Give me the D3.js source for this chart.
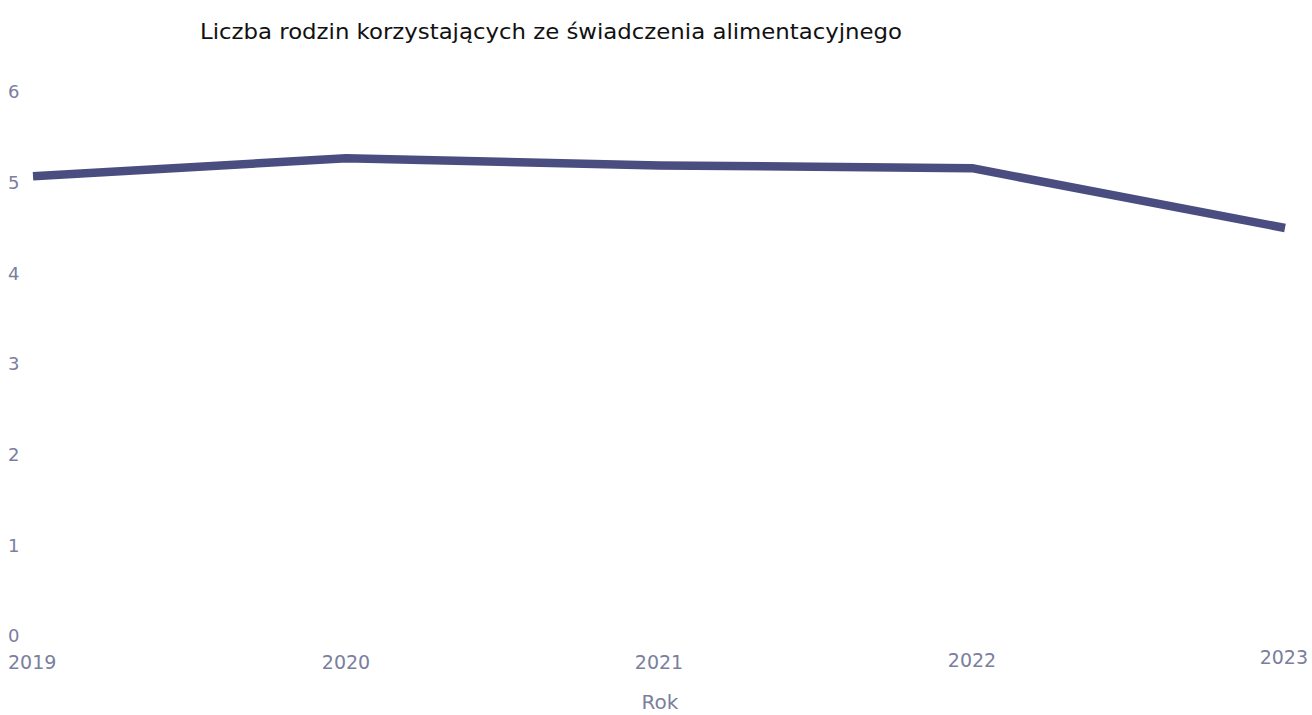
<!DOCTYPE html>
<html><head><meta charset="utf-8">
<script src="https://cdn.jsdelivr.net/npm/d3@7"></script>
<style>body{margin:0;background:#fff}svg{display:block}</style>
</head><body>
<svg id="c" width="1312" height="715"></svg>
<script>
const years = ["2019","2020","2021","2022","2023"];
const values = [5.07, 5.27, 5.19, 5.16, 4.50];
const yTicks = [0,1,2,3,4,5,6];
const title = "Liczba rodzin korzystających ze świadczenia alimentacyjnego";
const xTitle = "Rok";

const svg = d3.select("#c");
const x = d3.scalePoint().domain(years).range([33, 1285]);
const y = d3.scaleLinear().domain([0,6]).range([636, 92]);
const tickColor = "#7b7e9e";
const font = "DejaVu Sans, sans-serif";

svg.append("text").attr("x",200).attr("y",39)
  .attr("font-family",font).attr("font-size",22).attr("fill","#111")
  .attr("textLength",702).attr("lengthAdjust","spacingAndGlyphs")
  .text(title);

svg.append("g").selectAll("text").data(yTicks).join("text")
  .attr("x",8).attr("y",d=>y(d)).attr("dy","0.35em")
  .attr("font-family",font).attr("font-size",18).attr("fill",tickColor)
  .text(d=>d);

svg.append("g").selectAll("text").data(years).join("text")
  .attr("x",(d,i)=> i===0 ? 8 : (i===years.length-1 ? 1308 : x(d)))
  .attr("text-anchor",(d,i)=> i===0 ? "start" : (i===years.length-1 ? "end" : "middle"))
  .attr("y",(d,i)=> 662 - (i===years.length-1 ? 5 : 0) - (i===3?2:0)).attr("dy","0.35em")
  .attr("font-family",font).attr("font-size",19).attr("fill",tickColor)
  .text(d=>d);

svg.append("text").attr("x",660).attr("y",709).attr("text-anchor","middle")
  .attr("font-family",font).attr("font-size",20).attr("fill",tickColor).text(xTitle);

const line = d3.line().x((d,i)=>x(years[i])).y(d=>y(d));
svg.append("path").datum(values).attr("d",line)
  .attr("fill","none").attr("stroke","#4a4d7f").attr("stroke-width",8.5)
  .attr("stroke-linejoin","round");
</script>
</body></html>
